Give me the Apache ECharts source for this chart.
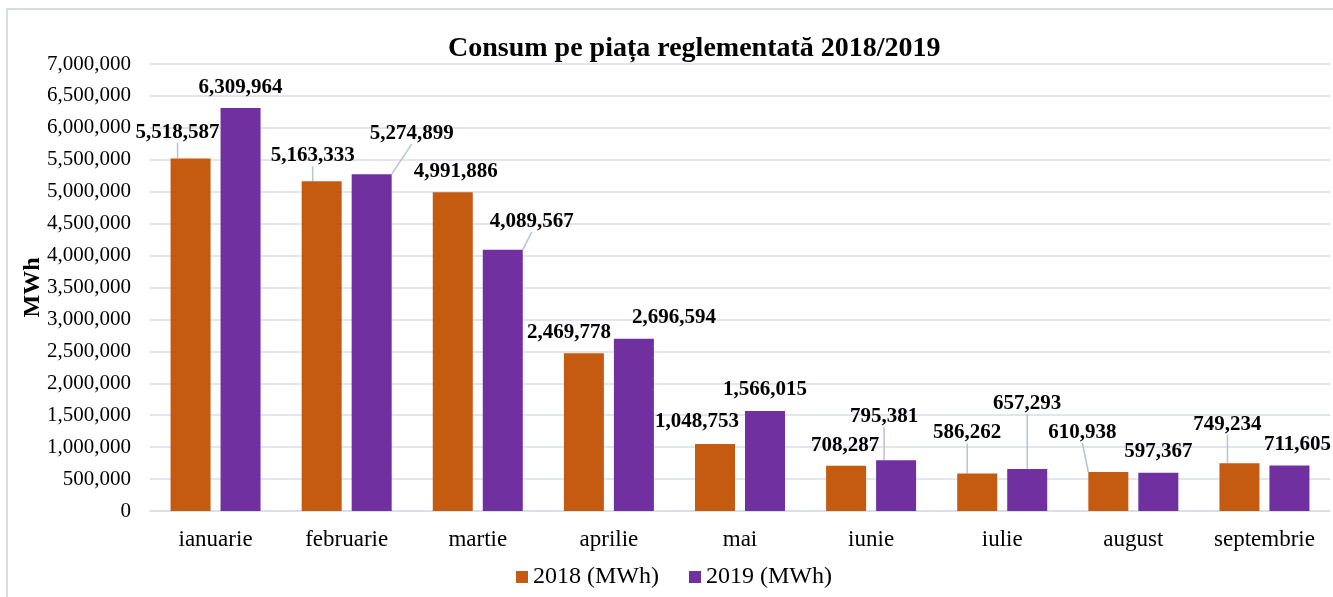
<!DOCTYPE html>
<html>
<head>
<meta charset="utf-8">
<script src="https://cdn.jsdelivr.net/npm/echarts@6/dist/echarts.min.js"></script>
<style>
  html, body { margin: 0; padding: 0; background: #fff; }
  #chart { width: 1333px; height: 597px; }
</style>
</head>
<body>
<div id="chart"></div>
<script>
// date
const months = ['ianuarie', 'februarie', 'martie', 'aprilie', 'mai', 'iunie', 'iulie', 'august', 'septembrie'];
const consum2018 = [5518587, 5163333, 4991886, 2469778, 1048753, 708287, 586262, 610938, 749234];
const consum2019 = [6309964, 5274899, 4089567, 2696594, 1566015, 795381, 657293, 597367, 711605];
const seriesNames = ['2018 (MWh)', '2019 (MWh)'];

// mutarea etichetelor (dx, dy) si liniile de legatura, ca in graficul original
const shift2018 = [[-13, -6], [-9, -5], [3, 0], [-15, 0], [-18, -2], [-1, 0], [-10, -20], [-26, -19], [-12, -18]];
const shift2019 = [[0, 0], [40, -20], [29, -8], [40, -1], [0, -1], [-12, -23], [0, -45], [0, -1], [8, 0]];
const leader2018 = [1, 1, 0, 0, 0, 0, 1, 1, 1];
const leader2019 = [0, 1, 1, 0, 0, 1, 1, 0, 0];

const FONT = "'Liberation Serif', 'Times New Roman', serif";
const fmt = v => Number(v).toLocaleString('en-US');

function buildData(values, leaders) {
  return values.map((v, i) => ({
    value: v,
    labelLine: { show: !!leaders[i] }
  }));
}

function barSeries(name, values, leaders, shifts, color) {
  return {
    name: name,
    type: 'bar',
    barWidth: 40,
    barGap: '25%',
    itemStyle: { color: color },
    label: {
      show: true,
      position: 'top',
      distance: 10,
      fontFamily: FONT,
      fontSize: 21,
      fontWeight: 'bold',
      color: '#000',
      formatter: p => fmt(p.value)
    },
    labelLine: {
      show: false,
      lineStyle: { color: '#b7c3d3', width: 1.5 }
    },
    labelLayout: function (params) {
      const s = shifts[params.dataIndex];
      return { dx: s[0], dy: s[1] };
    },
    data: buildData(values, leaders)
  };
}

const chart = echarts.init(document.getElementById('chart'), null, { renderer: 'canvas' });

const option = {
  animation: false,
  backgroundColor: '#fff',
  graphic: [{
    type: 'rect',
    shape: { x: 7, y: 9, width: 1340, height: 600 },
    style: { fill: 'none', stroke: '#d9dde3', lineWidth: 2 },
    silent: true
  }],
  title: {
    text: 'Consum pe piața reglementată 2018/2019',
    left: 443,
    top: 30,
    textStyle: { fontFamily: FONT, fontSize: 28, fontWeight: 'bold', color: '#000' }
  },
  legend: {
    data: seriesNames,
    left: 516,
    top: 565,
    padding: 0,
    icon: 'rect',
    itemWidth: 12,
    itemHeight: 12,
    itemGap: 30,
    textStyle: { fontFamily: FONT, fontSize: 24, color: '#000' }
  },
  grid: { left: 150, right: 3, top: 64, bottom: 86 },
  xAxis: {
    type: 'category',
    data: months,
    axisLine: { lineStyle: { color: '#d9dee6', width: 1.5 } },
    axisTick: { show: false },
    axisLabel: { interval: 0, fontFamily: FONT, fontSize: 23, color: '#000', margin: 17 }
  },
  yAxis: {
    type: 'value',
    min: 0,
    max: 7000000,
    interval: 500000,
    name: 'MWh',
    nameLocation: 'middle',
    nameGap: 105,
    nameMoveOverlap: false,
    nameTextStyle: { fontFamily: FONT, fontSize: 24, fontWeight: 'bold', color: '#000' },
    axisLine: { show: false },
    axisTick: { show: false },
    splitLine: { lineStyle: { color: '#d9dee6', width: 1.5 } },
    axisLabel: { fontFamily: FONT, fontSize: 21, color: '#000', margin: 19, formatter: v => fmt(v) }
  },
  series: [
    barSeries(seriesNames[0], consum2018, leader2018, shift2018, '#c55a11'),
    barSeries(seriesNames[1], consum2019, leader2019, shift2019, '#7030a0')
  ]
};

chart.setOption(option);
</script>
</body>
</html>
